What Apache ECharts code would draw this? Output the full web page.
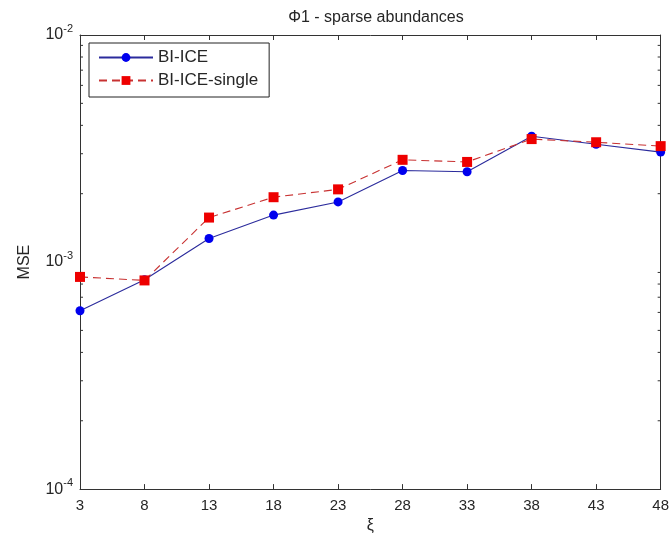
<!DOCTYPE html>
<html>
<head>
<meta charset="utf-8">
<script src="https://cdn.jsdelivr.net/npm/echarts@6/dist/echarts.min.js"></script>
<style>html,body{margin:0;padding:0;background:#fff;}#c{width:672px;height:539px;}</style>
</head>
<body>
<div id="c"></div>
<script>
var categories = ['3','8','13','18','23','28','33','38','43','48'];
var biIce = [6.1e-4, 8.35e-4, 1.27e-3, 1.61e-3, 1.84e-3, 2.53e-3, 2.50e-3, 3.58e-3, 3.30e-3, 3.05e-3];
var biIceSingle = [8.6e-4, 8.3e-4, 1.57e-3, 1.93e-3, 2.09e-3, 2.82e-3, 2.76e-3, 3.48e-3, 3.37e-3, 3.24e-3];
var minorTickValues = [];
[1e-4, 1e-3].forEach(function(d){ for (var k = 2; k <= 9; k++) minorTickValues.push(k * d); });

var chart = echarts.init(document.getElementById('c'), null, {renderer: 'canvas'});
var axisColor = '#333';
var textColor = '#262626';
var font = 'Liberation Sans, Arial, sans-serif';
function supFmt(v){
  var e = Math.round(Math.log10(v));
  return '{b|10}{s|' + e + '}';
}
chart.setOption({
  animation: false,
  backgroundColor: '#fff',
  title: {
    text: 'Φ1 - sparse abundances',
    left: 371, top: 5, textAlign: 'center',
    textStyle: {fontFamily: font, fontSize: 16, fontWeight: 'normal', color: textColor}
  },
  grid: {left: 80, right: 10, top: 35, bottom: 48},
  legend: {
    data: ['BI-ICE', 'BI-ICE-single'],
    orient: 'vertical',
    left: 89, top: 43,
    backgroundColor: '#fff',
    borderColor: '#222', borderWidth: 1,
    padding: [6, 11, 8, 9],
    itemGap: 6,
    itemWidth: 54, itemHeight: 11,
    textStyle: {fontFamily: font, fontSize: 17, color: textColor, lineHeight: 17}
  },
  xAxis: [{
    type: 'category', data: categories, boundaryGap: false,
    name: 'ξ', nameLocation: 'middle', nameGap: 26,
    nameTextStyle: {fontFamily: font, fontSize: 16, color: textColor},
    axisLine: {lineStyle: {color: axisColor}},
    axisTick: {inside: true, length: 5, lineStyle: {color: axisColor}},
    axisLabel: {fontFamily: font, fontSize: 15, color: textColor, margin: 9},
    splitLine: {show: false}
  }, {
    type: 'category', data: categories, boundaryGap: false, position: 'top',
    axisLine: {lineStyle: {color: axisColor}},
    axisTick: {inside: true, length: 5, lineStyle: {color: axisColor}},
    axisLabel: {show: false}, splitLine: {show: false}
  }],
  yAxis: [{
    type: 'log', logBase: 10, min: 1e-4, max: 1e-2,
    name: 'MSE', nameLocation: 'middle', nameGap: 47, nameRotate: 90,
    nameTextStyle: {fontFamily: font, fontSize: 16, color: textColor},
    axisLine: {show: true, lineStyle: {color: axisColor}},
    axisTick: {inside: true, length: 6, lineStyle: {color: axisColor}},
    axisLabel: {
      formatter: supFmt, margin: 7,
      rich: {
        b: {fontFamily: font, fontSize: 16, color: textColor},
        s: {fontFamily: font, fontSize: 11, color: textColor, padding: [0, 0, 12, 0]}
      }
    },
    splitLine: {show: false}
  }, {
    type: 'log', logBase: 10, min: 1e-4, max: 1e-2, position: 'right',
    axisLine: {show: true, lineStyle: {color: axisColor}},
    axisTick: {inside: true, length: 6, lineStyle: {color: axisColor}},
    axisLabel: {show: false}, splitLine: {show: false}
  }],
  series: [{
    name: 'minorTicks', type: 'custom', silent: true, xAxisIndex: 0, yAxisIndex: 0,
    data: minorTickValues.map(function(v){ return [0, v]; }),
    renderItem: function(params, api){
      var p = api.coord([0, api.value(1)]);
      var cs = params.coordSys;
      var s = {stroke: axisColor, lineWidth: 1};
      return {type: 'group', children: [
        {type: 'line', shape: {x1: cs.x, y1: p[1], x2: cs.x + 3, y2: p[1]}, style: s},
        {type: 'line', shape: {x1: cs.x + cs.width - 3, y1: p[1], x2: cs.x + cs.width, y2: p[1]}, style: s}
      ]};
    },
    z: 1
  }, {
    name: 'BI-ICE', type: 'line', data: biIce,
    symbol: 'circle', symbolSize: 9,
    itemStyle: {color: '#0000ee'},
    lineStyle: {color: '#2b2b9c', width: 1.1, type: 'solid'},
    z: 3
  }, {
    name: 'BI-ICE-single', type: 'line', data: biIceSingle,
    symbol: 'rect', symbolSize: 10,
    itemStyle: {color: '#ee0000'},
    lineStyle: {color: '#c83232', width: 1.1, type: [8, 5]},
    z: 4
  }]
});
</script>
</body>
</html>
